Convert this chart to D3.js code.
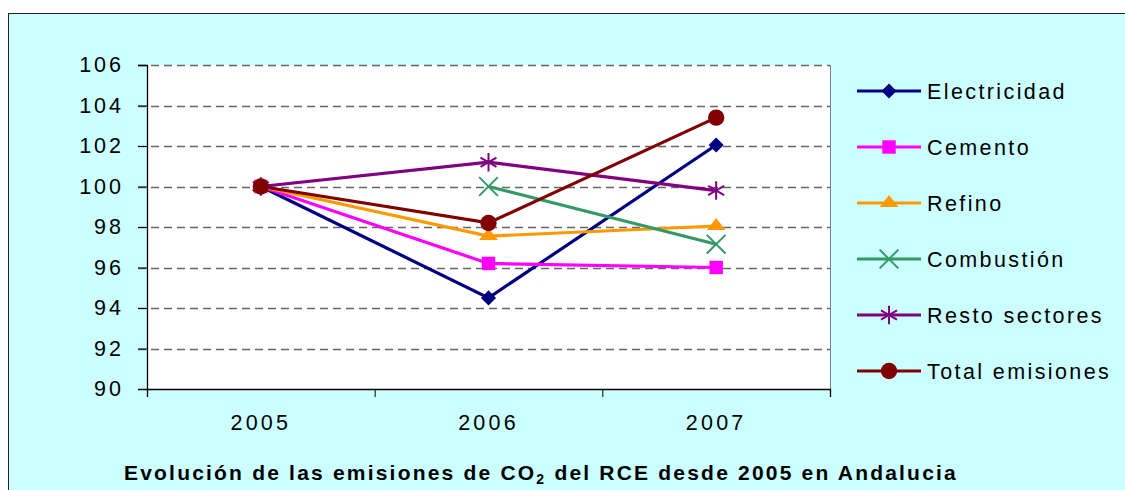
<!DOCTYPE html>
<html>
<head>
<meta charset="utf-8">
<script src="https://cdn.jsdelivr.net/npm/d3@7"></script>
<style>
  body { margin: 0; background: #fff; }
  svg { display: block; font-family: "Liberation Sans", Arial, sans-serif; }
</style>
</head>
<body>
<div id="chart"></div>
<script>
// categories and series (index values, 2005 = 100)
const years = ['2005', '2006', '2007'];
const electricidad = [100, 94.5, 102.05];
const cemento = [100, 96.2, 96.0];
const refino = [100, 97.55, 98.05];
const combustion = [null, 100, 97.15];
const restoSectores = [100, 101.2, 99.8];
const totalEmisiones = [100, 98.2, 103.4];
const yTicks = [90, 92, 94, 96, 98, 100, 102, 104, 106];

const seriesNames = ['Electricidad', 'Cemento', 'Refino', 'Combustión', 'Resto sectores', 'Total emisiones'];

const series = [
  {name: seriesNames[0], values: electricidad, color: '#000080', marker: 'diamond'},
  {name: seriesNames[1], values: cemento, color: '#FF00FF', marker: 'square'},
  {name: seriesNames[2], values: refino, color: '#FF9900', marker: 'triangle'},
  {name: seriesNames[3], values: combustion, color: '#339966', marker: 'x'},
  {name: seriesNames[4], values: restoSectores, color: '#800080', marker: 'star'},
  {name: seriesNames[5], values: totalEmisiones, color: '#800000', marker: 'circle'}
];

const W = 1125, H = 490;
const margin = {top: 65, left: 147};
const width = 830 - 147, height = 389 - 65;

const svg = d3.select('#chart').append('svg')
  .attr('width', W)
  .attr('height', H);

// chart area background + border
svg.append('rect')
  .attr('x', 8.5).attr('y', 13.5)
  .attr('width', W + 10).attr('height', H + 10)
  .attr('fill', '#CCFFFF')
  .attr('stroke', '#222')
  .attr('stroke-width', 1);

const g = svg.append('g')
  .attr('transform', `translate(${margin.left},${margin.top})`);

// scales
const x = d3.scaleBand().domain(years).range([0, width]);
const xEdges = d3.scaleLinear().domain([0, years.length]).range([0, width]);
const y = d3.scaleLinear().domain([90, 106]).range([height, 0]);

// plot area
g.append('rect')
  .attr('width', width).attr('height', height)
  .attr('fill', '#fff');

g.append('line')
  .attr('x1', width + 0.5).attr('x2', width + 0.5)
  .attr('y1', 0).attr('y2', height)
  .attr('stroke', '#808080');

// gridlines
g.append('g')
  .selectAll('line')
  .data(yTicks.filter(d => d > 90))
  .join('line')
  .attr('x1', -9).attr('x2', width)
  .attr('y1', d => Math.round(y(d)) + 0.5)
  .attr('y2', d => Math.round(y(d)) + 0.5)
  .attr('stroke', '#666')
  .attr('stroke-width', 1.3)
  .attr('stroke-dasharray', '8,5');

// y axis
const yAxis = d3.axisLeft(y).tickValues(yTicks).tickSize(9).tickPadding(14);
const yG = g.append('g').call(yAxis);
yG.select('.domain').attr('stroke', '#000').attr('stroke-width', 1.3);
yG.selectAll('.tick line').attr('stroke', '#000');
yG.selectAll('text')
  .attr('fill', '#000')
  .style('font-size', '21.5px')
  .style('letter-spacing', '3px');

// x axis: tick marks at category edges, labels in the middle
const xTickAxis = d3.axisBottom(xEdges).tickValues(d3.range(years.length + 1)).tickSize(8).tickFormat('');
const xG = g.append('g')
  .attr('transform', `translate(0,${height})`)
  .call(xTickAxis);
xG.select('.domain').attr('stroke', '#000').attr('stroke-width', 1.3);
xG.selectAll('.tick line').attr('stroke', '#000');

const xLabelAxis = d3.axisBottom(x).tickSize(0).tickPadding(26);
const xL = g.append('g')
  .attr('transform', `translate(0,${height})`)
  .call(xLabelAxis);
xL.select('.domain').remove();
xL.selectAll('text')
  .attr('fill', '#000')
  .style('font-size', '21.5px')
  .style('letter-spacing', '3.2px');

// markers
const symbolTypes = {
  diamond: d3.symbolDiamond2,
  square: d3.symbolSquare2,
  triangle: d3.symbolTriangle2,
  x: d3.symbolX,
  star: d3.symbolAsterisk,
  circle: d3.symbolCircle
};

function drawMarker(sel, s) {
  const sizes = {diamond: 145, square: 230, triangle: 190, x: 230, star: 240, circle: 210};
  const sym = d3.symbol().type(symbolTypes[s.marker]).size(sizes[s.marker]);
  const filled = s.marker !== 'x' && s.marker !== 'star';
  sel.append('path')
    .attr('d', sym())
    .attr('fill', filled ? s.color : 'none')
    .attr('stroke', s.color)
    .attr('stroke-width', filled ? 0 : 2)
    .attr('transform', s.marker === 'triangle' ? 'scale(1.15,0.85)' : null);
}

const line = d3.line()
  .defined(d => d.v != null)
  .x(d => x(d.year) + x.bandwidth() / 2)
  .y(d => y(d.v));

series.forEach(s => {
  const pts = years.map((yr, i) => ({year: yr, v: s.values[i]}));
  g.append('path')
    .datum(pts)
    .attr('fill', 'none')
    .attr('stroke', s.color)
    .attr('stroke-width', 3.2)
    .attr('d', line);
});

series.forEach(s => {
  const pts = years.map((yr, i) => ({year: yr, v: s.values[i]})).filter(d => d.v != null);
  pts.forEach(d => {
    const m = g.append('g')
      .attr('transform', `translate(${x(d.year) + x.bandwidth() / 2},${y(d.v)})`);
    drawMarker(m, s);
  });
});

// legend
const legend = svg.append('g').attr('transform', 'translate(857,91)');
series.forEach((s, i) => {
  const row = legend.append('g').attr('transform', `translate(0,${i * 56})`);
  row.append('line')
    .attr('x1', 0).attr('x2', 64)
    .attr('stroke', s.color)
    .attr('stroke-width', 3.2);
  const m = row.append('g').attr('transform', 'translate(32,0)');
  drawMarker(m, s);
  row.append('text')
    .attr('x', 70)
    .attr('dy', '0.36em')
    .style('font-size', '21.5px')
    .style('letter-spacing', '2.4px')
    .text(s.name);
});

// title
const title = svg.append('text')
  .attr('x', 124)
  .attr('y', 480)
  .style('font-size', '21px')
  .style('font-weight', 'bold')
  .style('letter-spacing', '2.2px');
title.append('tspan').text('Evolución de las emisiones de CO');
title.append('tspan').attr('dy', 4).style('font-size', '14px').text('2');
title.append('tspan').attr('dy', -4).text(' del RCE desde 2005 en Andalucia');
</script>
</body>
</html>
